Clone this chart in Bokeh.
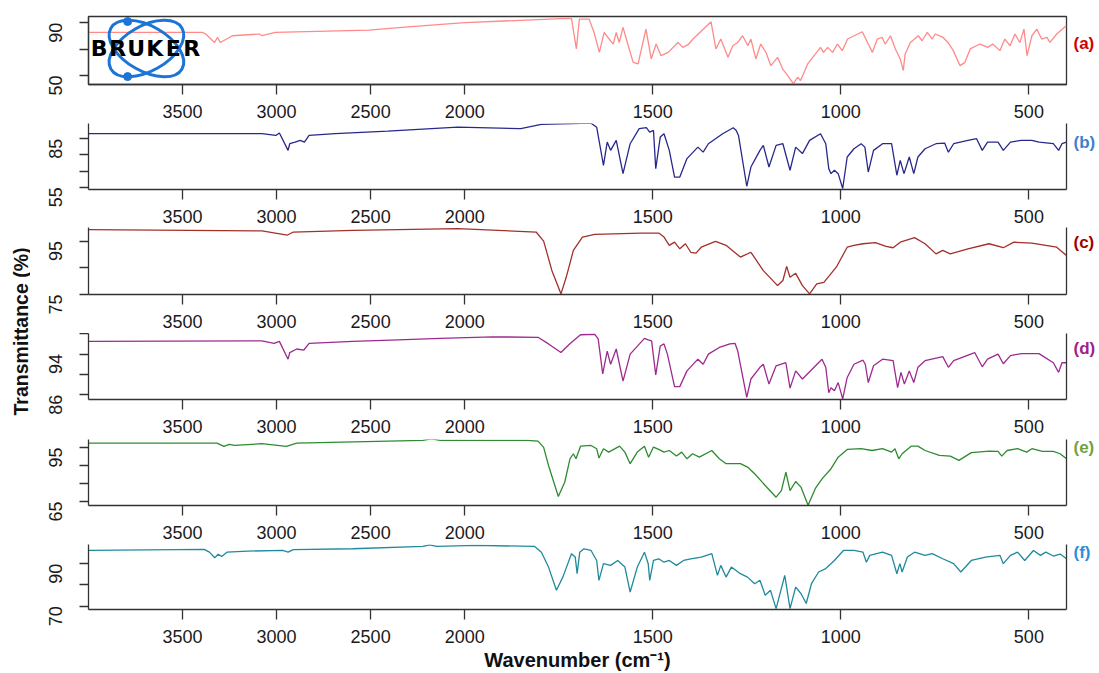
import math
import numpy as np
from bokeh.plotting import figure
from bokeh.layouts import column, row
from bokeh.models import Range1d, FixedTicker, CustomJSTickFormatter, LinearAxis, Label
from bokeh.embed import file_html
from bokeh.resources import INLINE

# ---------------- data (wavenumber cm-1, transmittance %) ----------------
wn_a = [4000, 3394, 3378, 3330, 3314, 3299, 3235, 3092, 3076, 3007, 2509, 2334, 2000, 1868, 1743, 1716,
        1703, 1695, 1669, 1656, 1642, 1629, 1616, 1605, 1597, 1589, 1579, 1565, 1552, 1539, 1518, 1504,
        1491, 1478, 1459, 1433, 1420, 1406, 1393, 1345, 1332, 1319, 1300, 1287, 1274, 1261, 1247, 1239,
        1226, 1213, 1199, 1186, 1168, 1155, 1141, 1126, 1115, 1107, 1088, 1054, 1046, 1035, 1022, 1009,
        996, 982, 943, 927, 916, 903, 890, 882, 868, 855, 842, 834, 829, 815, 794, 784, 770, 757, 749,
        728, 715, 701, 683, 670, 656, 630, 609, 596, 577, 564, 550, 537, 524, 513, 505, 492, 479, 466,
        452, 444, 426, 400]
t_a = [82.7, 82.7, 81.7, 75.1, 78.9, 75.1, 80.2, 81.5, 80.2, 82.7, 84.5, 86.5, 90.2, 91.7, 93.2, 93.2,
       70.2, 92.8, 92.8, 82.7, 67.6, 82.7, 77.7, 73.9, 82.7, 75.1, 86.5, 72.6, 60.0, 58.8, 85.2, 62.6,
       73.9, 65.1, 67.6, 75.1, 71.4, 73.4, 77.7, 90.8, 70.2, 77.7, 63.8, 72.6, 75.1, 80.2, 72.6, 77.7,
       62.6, 73.9, 67.6, 57.5, 63.8, 55.1, 50.0, 43.7, 48.7, 46.2, 58.8, 71.4, 67.6, 71.4, 67.6, 73.9,
       68.9, 77.7, 83.2, 73.9, 67.6, 77.7, 78.9, 73.9, 80.2, 70.2, 62.6, 53.8, 66.4, 75.1, 80.2, 76.4,
       82.7, 77.7, 81.5, 78.9, 75.1, 68.9, 57.5, 60.0, 70.2, 73.9, 71.4, 73.9, 68.9, 77.7, 72.6, 81.5,
       75.1, 85.2, 65.1, 80.2, 85.2, 77.7, 78.9, 75.1, 81.5, 88.0]

wn_b = [4000, 3078, 3004, 2985, 2939, 2930, 2902, 2874, 2852, 2827, 2688, 2409, 2037, 1851, 1796, 1664,
        1649, 1631, 1621, 1612, 1597, 1579, 1560, 1536, 1517, 1508, 1498, 1492, 1480, 1470, 1456, 1442,
        1428, 1409, 1380, 1366, 1352, 1333, 1314, 1286, 1278, 1272, 1250, 1239, 1215, 1206, 1191, 1172,
        1154, 1135, 1120, 1102, 1083, 1054, 1040, 1032, 1026, 1017, 1007, 995, 983, 965, 946, 936, 927,
        913, 889, 865, 851, 842, 832, 818, 806, 795, 776, 747, 724, 714, 700, 662, 639, 624, 610, 582,
        568, 549, 520, 492, 473, 435, 421, 412, 400]
t_b = [88.1, 88.1, 87.0, 88.5, 77.8, 81.9, 82.9, 84.0, 82.9, 87.0, 88.1, 89.7, 92.1, 91.2, 93.8, 94.6,
       92.1, 68.5, 82.9, 77.8, 84.0, 63.4, 81.9, 91.2, 91.8, 89.1, 90.1, 66.5, 86.0, 88.1, 77.8, 61.3,
       61.3, 72.7, 79.8, 76.7, 81.9, 85.0, 88.1, 91.8, 90.1, 87.0, 55.6, 67.5, 77.8, 80.9, 67.5, 80.9,
       81.9, 65.5, 79.8, 75.8, 84.0, 88.1, 81.9, 66.5, 63.4, 65.5, 63.4, 54.2, 73.7, 78.8, 81.9, 79.8, 64.4,
       77.8, 81.9, 81.9, 62.4, 71.6, 63.4, 73.7, 63.4, 73.7, 78.8, 81.9, 82.3, 76.7, 81.9, 84.0, 85.0, 77.8,
       82.9, 82.9, 77.8, 82.9, 84.0, 84.0, 82.9, 81.9, 77.8, 81.9, 82.9]

wn_c = [4000, 3078, 2967, 2944, 2911, 2595, 2037, 1810, 1790, 1768, 1744, 1730, 1711, 1687, 1654, 1531,
        1484, 1470, 1456, 1442, 1428, 1413, 1399, 1385, 1371, 1333, 1305, 1267, 1239, 1206, 1168, 1154,
        1144, 1135, 1120, 1102, 1083, 1064, 1045, 1012, 983, 965, 941, 908, 880, 861, 842, 804, 776, 747,
        729, 709, 662, 606, 568, 540, 492, 455, 426, 400]
t_c = [99.3, 98.8, 97.5, 97.2, 98.4, 99.0, 99.7, 98.4, 95.0, 83.9, 75.2, 81.4, 91.5, 96.5, 97.5, 98.0,
       98.0, 96.5, 93.4, 94.6, 92.1, 94.0, 90.8, 90.5, 92.7, 94.9, 93.4, 89.0, 90.8, 83.9, 78.3, 80.2,
       85.5, 81.4, 82.9, 78.3, 75.2, 78.9, 79.5, 85.2, 92.7, 93.4, 94.0, 94.4, 93.0, 92.5, 94.6, 96.3,
       94.0, 90.2, 91.5, 90.2, 92.1, 94.0, 92.5, 94.6, 94.2, 93.4, 92.7, 89.6]

wn_d = [4000, 3078, 3013, 2985, 2939, 2930, 2893, 2855, 2827, 2595, 2353, 2130, 1926, 1805, 1777, 1744,
        1721, 1692, 1654, 1645, 1633, 1621, 1612, 1597, 1579, 1560, 1522, 1512, 1503, 1492, 1480, 1470,
        1461, 1442, 1428, 1409, 1380, 1366, 1352, 1323, 1295, 1281, 1274, 1250, 1239, 1215, 1206, 1191,
        1172, 1146, 1135, 1120, 1102, 1050, 1040, 1032, 1026, 1017, 1007, 995, 983, 965, 941, 935, 927,
        913, 889, 861, 849, 840, 831, 818, 806, 795, 776, 729, 714, 700, 644, 624, 610, 582, 568, 549,
        520, 473, 435, 421, 412, 400]
t_d = [96.5, 96.6, 96.1, 96.5, 93.0, 94.3, 95.0, 94.8, 96.1, 96.5, 96.8, 97.1, 97.4, 97.3, 96.0, 94.3,
       96.0, 97.8, 97.9, 97.0, 90.1, 94.6, 92.0, 95.0, 88.7, 94.0, 97.1, 96.8, 96.6, 89.9, 95.6, 96.0,
       94.0, 87.6, 87.6, 90.7, 93.0, 92.0, 94.0, 95.3, 96.0, 96.1, 94.6, 85.5, 89.1, 91.4, 92.0, 88.1,
       91.7, 92.3, 87.3, 90.7, 89.1, 93.0, 91.4, 86.4, 87.4, 86.8, 88.4, 85.2, 89.4, 92.0, 92.8, 92.0, 88.4,
       91.7, 93.0, 92.7, 87.4, 90.4, 88.1, 90.7, 88.4, 91.4, 92.7, 93.5, 91.4, 92.7, 94.3, 91.5, 93.0, 94.0,
       92.1, 93.7, 94.1, 94.1, 92.3, 90.4, 92.3, 92.3]

wn_e = [4000, 3317, 3280, 3252, 3223, 3078, 2948, 2893, 2223, 2177, 2130, 1833, 1805, 1790, 1777, 1751,
        1734, 1720, 1711, 1704, 1692, 1664, 1649, 1643, 1631, 1617, 1588, 1574, 1560, 1541, 1522, 1511,
        1498, 1484, 1470, 1456, 1437, 1423, 1409, 1394, 1376, 1343, 1323, 1305, 1267, 1248, 1229, 1201,
        1172, 1158, 1146, 1135, 1120, 1106, 1087, 1068, 1050, 1026, 1007, 983, 946, 917, 889, 865, 856,
        846, 837, 813, 795, 776, 738, 709, 686, 653, 606, 582, 572, 558, 530, 506, 492, 464, 435, 417, 400]
t_e = [97.4, 97.4, 95.6, 96.7, 96.1, 97.1, 95.6, 97.4, 98.9, 99.8, 98.9, 98.9, 98.5, 95.0, 85.0, 67.8,
       75.7, 88.7, 91.5, 88.7, 95.7, 96.1, 94.3, 89.1, 94.3, 92.4, 95.7, 92.4, 86.0, 92.4, 95.7, 89.6,
       95.2, 93.9, 92.4, 93.3, 90.2, 92.4, 88.7, 91.5, 89.6, 93.3, 88.7, 86.0, 86.0, 84.1, 80.4, 73.9,
       67.4, 71.1, 81.3, 71.1, 76.1, 73.0, 63.0, 72.1, 77.6, 83.2, 89.6, 93.9, 94.3, 93.3, 94.3, 92.4, 94.3,
       88.7, 91.5, 95.7, 95.7, 93.3, 90.6, 90.2, 87.8, 92.1, 93.0, 92.8, 90.2, 93.3, 94.3, 92.4, 94.3, 92.8,
       92.8, 91.5, 88.7]

wn_f = [4000, 3385, 3357, 3329, 3310, 3292, 3264, 3153, 2967, 2939, 2911, 2595, 2223, 2186, 2149, 1972,
        1814, 1796, 1777, 1756, 1739, 1716, 1706, 1701, 1694, 1683, 1664, 1649, 1643, 1631, 1612, 1593,
        1574, 1560, 1541, 1522, 1512, 1508, 1498, 1484, 1470, 1456, 1437, 1418, 1399, 1371, 1343, 1328,
        1319, 1305, 1291, 1267, 1248, 1229, 1215, 1201, 1187, 1172, 1149, 1135, 1120, 1106, 1092, 1078,
        1059, 1040, 1017, 993, 965, 941, 932, 923, 889, 865, 851, 843, 837, 823, 804, 776, 757, 729, 700,
        681, 653, 615, 577, 568, 549, 530, 511, 488, 469, 455, 435, 417, 400]
t_f = [96.2, 96.7, 95.4, 92.8, 94.4, 93.4, 95.4, 95.9, 96.2, 95.4, 96.6, 97.0, 98.1, 98.8, 98.1, 98.6,
       98.1, 95.4, 88.4, 77.5, 83.7, 94.7, 93.1, 85.3, 95.4, 97.0, 96.2, 91.5, 82.2, 90.0, 89.2, 91.5,
       88.4, 76.7, 88.4, 95.4, 90.0, 82.2, 91.5, 92.3, 90.7, 91.5, 89.2, 91.5, 92.3, 93.1, 94.7, 84.5,
       89.2, 83.7, 88.4, 85.3, 83.7, 80.6, 82.2, 75.2, 77.5, 68.9, 84.5, 68.9, 79.0, 76.0, 71.3, 80.6,
       86.1, 87.7, 91.5, 96.2, 96.2, 95.4, 90.7, 93.9, 95.4, 93.9, 85.3, 90.0, 86.1, 93.1, 95.4, 93.9,
       94.7, 92.3, 90.0, 86.1, 91.5, 93.1, 93.9, 90.0, 93.9, 95.4, 91.5, 96.2, 93.9, 95.4, 93.6, 94.5, 92.3]

x_tick_values = [3500, 3000, 2500, 2000, 1500, 1000, 500]
x_title = "Wavenumber (cm\u207b\u00b9)"
y_title = "Transmittance (%)"
tags = ["(a)", "(b)", "(c)", "(d)", "(e)", "(f)"]
tag_colors = ["#d40000", "#3f7fd0", "#a00000", "#a0208e", "#74a040", "#2a8fd8"]

# ---------------- styling / layout constants ----------------
FONT = "Liberation Sans"
AXIS = "#333333"
TOTAL_H = 673
W_TITLE = 30
W_TAGS = 31
LEFT_B = 58
FRAME_W = 978
RIGHT_B = 2
W_PANEL = LEFT_B + FRAME_W + RIGHT_B
# vertical pixel position (from top) of each tag label
TAG_PIX_Y = [43, 142, 242, 348, 447, 552]


def to_u(wn):
    """OPUS-style abscissa: 4000-2000 cm-1 drawn at half scale."""
    wn = np.asarray(wn, dtype=float)
    return np.where(wn > 2000, 2000 + (wn - 2000) / 2.0, wn)


x_fmt_code = """
const wn = tick > 2000 ? 2000 + (tick - 2000) * 2 : tick;
return String(Math.round(wn));
"""


def make_panel(wn, t, color, yr, yticks, yshow, height, top, bottom, boxed=False, xlabel=None):
    p = figure(width=W_PANEL, height=height,
               x_range=Range1d(float(to_u(4000)), float(to_u(400))),
               y_range=Range1d(*yr),
               output_backend="svg", toolbar_location=None,
               min_border_left=LEFT_B, min_border_right=RIGHT_B,
               min_border_top=top, min_border_bottom=bottom)
    p.grid.visible = False
    p.background_fill_color = "white"
    p.border_fill_color = "white"
    if boxed:
        p.outline_line_color = AXIS
        p.outline_line_width = 1.3
        p.outline_line_alpha = 1.0
    else:
        p.outline_line_color = None
        rax = LinearAxis(ticker=FixedTicker(ticks=[]), major_tick_out=0, major_tick_in=0,
                         minor_tick_out=0, major_label_standoff=0,
                         major_label_text_font_size="1px",
                         axis_line_color=AXIS, axis_line_width=1.3)
        p.add_layout(rax, "right")

    p.line(to_u(wn), t, line_color=color, line_width=1.3)

    xa = p.xaxis[0]
    xa.ticker = FixedTicker(ticks=[float(v) for v in to_u(x_tick_values)])
    xa.formatter = CustomJSTickFormatter(code=x_fmt_code)
    xa.major_tick_out = 10
    xa.major_label_standoff = 10

    ya = p.yaxis[0]
    ya.ticker = FixedTicker(ticks=yticks)
    ya.formatter = CustomJSTickFormatter(args=dict(show=yshow),
                                         code="return show.includes(tick) ? String(tick) : '';")
    ya.major_tick_out = 9
    ya.major_label_standoff = 24
    ya.major_label_orientation = math.pi / 2

    for ax in (xa, ya):
        ax.axis_line_color = AXIS
        ax.axis_line_width = 1.3
        ax.major_tick_line_color = AXIS
        ax.major_tick_line_width = 1.3
        ax.major_tick_in = 0
        ax.minor_tick_line_color = None
        ax.major_label_text_font = FONT
        ax.major_label_text_font_size = "18px"
        ax.major_label_text_color = "#1a1a1a"

    if xlabel:
        xa.axis_label = xlabel
        xa.axis_label_text_font = FONT
        xa.axis_label_text_font_style = "bold"
        xa.axis_label_text_font_size = "20px"
        xa.axis_label_text_color = "#111111"
        xa.axis_label_standoff = 3
    return p


pa = make_panel(wn_a, t_a, "#ff8a8a", (43.2, 94.8), [50, 70, 90], [50, 90], 123, 16, 39, boxed=True)
# Bruker logo in the top-left corner of panel (a)
logo_u, logo_t = 2846.0, 70.5
pa.ellipse(x=[logo_u, logo_u], y=[logo_t, logo_t], width=82, height=45,
           angle=[-0.52, 0.52], width_units="screen", height_units="screen",
           fill_color=None, line_color="#1b74d6", line_width=3)
pa.scatter(x=[2896.0, 2896.0], y=[91.0, 49.2], size=8, color="#1b74d6")
for i, ch in enumerate("BRUKER"):
    pa.add_layout(Label(x=logo_u, y=logo_t, x_offset=(i - 2.5) * 18.5 - 1, text=ch,
                        text_align="center", text_baseline="middle",
                        text_font="DejaVu Sans", text_font_style="bold", text_font_size="22px",
                        text_color="#000000"))

pb = make_panel(wn_b, t_b, "#28288c", (53.6, 94.4), [55, 65, 75, 85], [55, 85], 104, 0, 38)
pc = make_panel(wn_c, t_c, "#a3302a", (74.95, 100.1), [75, 85, 95], [75, 95], 106, 0, 39)
pd_ = make_panel(wn_d, t_d, "#9e2a8f", (85.07, 98.05), [86, 90, 94, 98], [86, 94], 106, 0, 40)
pe = make_panel(wn_e, t_e, "#2e8b32", (62.8, 99.4), [65, 75, 85, 95], [65, 95], 105, 0, 39)
pf = make_panel(wn_f, t_f, "#1e8a9c", (68.5, 99.0), [70, 80, 90], [70, 90], 129, 0, 64, xlabel=x_title)

# left strip: common y-axis title
tp = figure(width=W_TITLE, height=TOTAL_H, x_range=Range1d(0, W_TITLE), y_range=Range1d(0, TOTAL_H),
            min_border=0, toolbar_location=None, output_backend="svg",
            x_axis_type=None, y_axis_type=None)
tp.outline_line_color = None
tp.grid.visible = False
tp.add_layout(Label(x=20, y=TOTAL_H - 331, text=y_title, angle=math.pi / 2,
                    text_align="center", text_baseline="middle",
                    text_font=FONT, text_font_style="bold", text_font_size="19.5px",
                    text_color="#111111"))

# right strip: panel tags (a)-(f)
gp = figure(width=W_TAGS, height=TOTAL_H, x_range=Range1d(0, W_TAGS), y_range=Range1d(0, TOTAL_H),
            min_border=0, toolbar_location=None, output_backend="svg",
            x_axis_type=None, y_axis_type=None)
gp.outline_line_color = None
gp.grid.visible = False
for tag, col, py in zip(tags, tag_colors, TAG_PIX_Y):
    gp.add_layout(Label(x=5, y=TOTAL_H - py, text=tag, text_align="left", text_baseline="middle",
                        text_font=FONT, text_font_style="bold", text_font_size="17px",
                        text_color=col))

layout = row(tp, column(pa, pb, pc, pd_, pe, pf, spacing=0), gp, spacing=0)

open("out.html", "w").write(file_html(layout, INLINE))
